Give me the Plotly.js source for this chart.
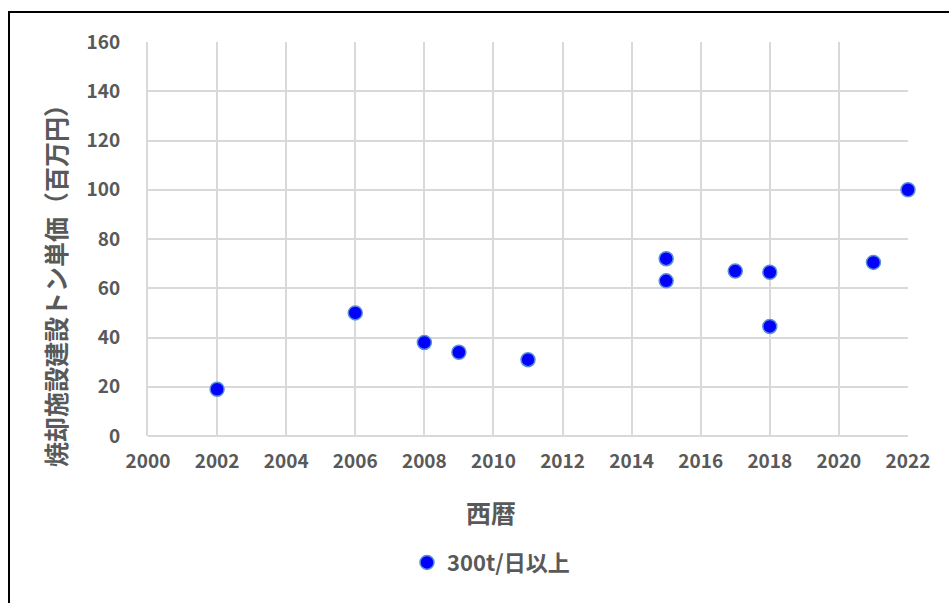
<!DOCTYPE html>
<html>
<head>
<meta charset="utf-8">
<script src="https://cdn.plot.ly/plotly-3.0.1.min.js"></script>
<style>
html,body{margin:0;padding:0;background:#fff;overflow:hidden;}
#chart{width:949px;height:603px;}
#frame{position:absolute;left:8px;top:11px;width:1000px;height:700px;border:2px solid #000;pointer-events:none;}
</style>
</head>
<body>
<div id="chart"></div>
<div id="frame"></div>
<script>
const years = [2002, 2006, 2008, 2009, 2011, 2015, 2015, 2017, 2018, 2018, 2021, 2022];
const unitCost = [19, 50, 38, 34, 31, 72, 63, 67, 66.5, 44.5, 70.5, 100];
const seriesName = '300t/日以上';
const xTitle = '西暦';
const yTitle = '焼却施設建設トン単価（百万円）';

const fontFam = '"Noto Sans CJK JP", "Noto Sans", sans-serif';
const grey = '#595959';

Plotly.newPlot('chart', [{
  x: years, y: unitCost, type: 'scatter', mode: 'markers', name: seriesName,
  cliponaxis: false,
  marker: {color: '#0000ff', size: 14, line: {color: '#5b8fd6', width: 1.5}}
}], {
  width: 949, height: 603,
  margin: {l: 148, r: 41, t: 42, b: 167},
  paper_bgcolor: '#fff', plot_bgcolor: '#fff',
  font: {family: fontFam, color: grey},
  xaxis: {
    range: [2000, 2022], dtick: 2, tick0: 2000,
    showgrid: true, gridcolor: '#d9d9d9', gridwidth: 2,
    zeroline: false, showline: false,
    ticks: '', ticklabelstandoff: 12,
    tickfont: {size: 19, weight: 'bold', color: grey}
  },
  yaxis: {
    range: [0, 160], dtick: 20,
    showgrid: true, gridcolor: '#d9d9d9', gridwidth: 2,
    zeroline: true, zerolinecolor: '#d9d9d9', zerolinewidth: 2,
    showline: true, linecolor: '#d9d9d9', linewidth: 2,
    ticks: '', ticklabelstandoff: 22,
    tickfont: {size: 19, weight: 'bold', color: grey}
  },
  annotations: [
    {text: xTitle, xref: 'paper', yref: 'paper', x: 0.4513, y: -0.193,
     xanchor: 'center', yanchor: 'middle', showarrow: false,
     font: {size: 25, weight: 'bold', color: grey}},
    {text: yTitle, xref: 'paper', yref: 'paper', x: -0.1224, y: 0.3985,
     xanchor: 'center', yanchor: 'middle', textangle: -90, showarrow: false,
     font: {size: 25, weight: 'bold', color: grey}}
  ],
  showlegend: true,
  legend: {orientation: 'h', x: 0.4513, xanchor: 'center', y: -0.268, yanchor: 'top',
    font: {size: 22, weight: 'bold', color: grey}, itemwidth: 30}
}, {displayModeBar: false, staticPlot: true});
</script>
</body>
</html>
